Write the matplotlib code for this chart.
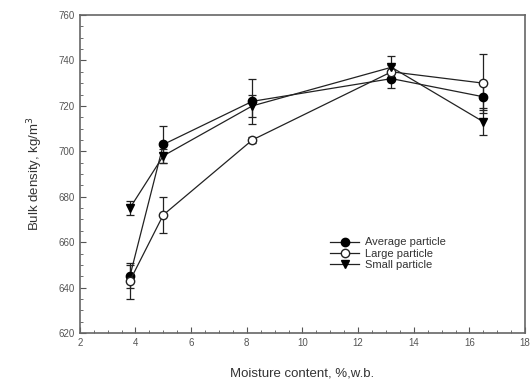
import numpy as np
import matplotlib.pyplot as plt
from matplotlib.ticker import MultipleLocator
from matplotlib.lines import Line2D

plt.rcParams['font.family'] = ['Liberation Sans', 'DejaVu Sans']

moisture = [3.8, 5.0, 8.2, 13.2, 16.5]
avg = [645, 703, 722, 732, 724]
avg_err = [5, 8, 10, 4, 6]
large = [643, 672, 705, 735, 730]
large_err = [8, 8, 1.5, 3, 13]
small = [675, 698, 720, 737, 713]
small_err = [3, 3, 5, 5, 6]
labels = ['Average particle', 'Large particle', 'Small particle']

fig = plt.figure(figsize=(5.32, 3.85), dpi=100)
ax = fig.add_axes([0.150, 0.135, 0.837, 0.826])

kw = dict(color='#222222', lw=0.9, capsize=3, elinewidth=0.9, capthick=0.9, ms=6)
ax.errorbar(moisture, avg, yerr=avg_err, fmt='-o', mfc='black', mec='black', **kw)
ax.errorbar(moisture, large, yerr=large_err, fmt='-o', mfc='white', mec='#222222', **kw)
ax.errorbar(moisture, small, yerr=small_err, fmt='-v', mfc='black', mec='black', **kw)

ax.set_xlim(2, 18)
ax.set_ylim(620, 760)
ax.xaxis.set_major_locator(MultipleLocator(2))
ax.xaxis.set_minor_locator(MultipleLocator(0.5))
ax.yaxis.set_major_locator(MultipleLocator(20))
ax.yaxis.set_minor_locator(MultipleLocator(5))
ax.tick_params(which='both', direction='in', top=False, right=False,
               labelsize=7, labelcolor='#555555', color='#555555')
ax.tick_params(which='major', length=4)
ax.tick_params(which='minor', length=2)
for s in ax.spines.values():
    s.set_color('#666666')
    s.set_linewidth(1.2)

ax.set_xlabel('Moisture content, %,w.b.', fontsize=9.5, color='#333333', labelpad=14)
ax.set_ylabel('Bulk density, kg/m$^3$', fontsize=9.5, color='#333333', labelpad=10)

handles = [
    Line2D([], [], color='#222222', lw=0.9, marker='o', mfc='black', mec='black', ms=6),
    Line2D([], [], color='#222222', lw=0.9, marker='o', mfc='white', mec='#222222', ms=6),
    Line2D([], [], color='#222222', lw=0.9, marker='v', mfc='black', mec='black', ms=6),
]
leg = ax.legend(handles, labels, loc='center left', bbox_to_anchor=(0.54, 0.25),
                frameon=False, fontsize=8, handlelength=2.6, labelspacing=0.1,
                handletextpad=0.5)
for t in leg.get_texts():
    t.set_color('#333333')

fig.savefig('out.png', dpi=100)
